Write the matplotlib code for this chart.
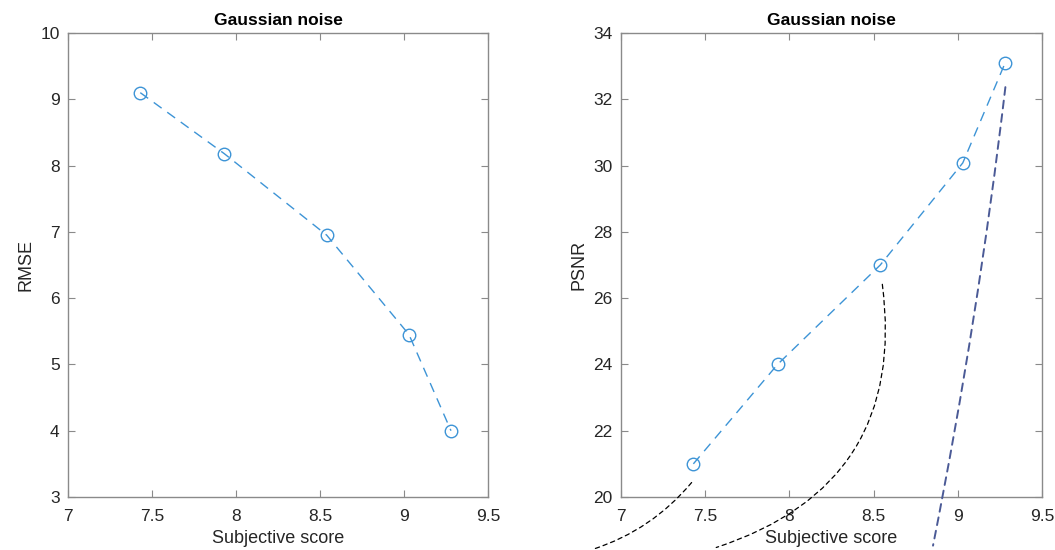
import matplotlib.pyplot as plt

plt.rcParams['font.family'] = ['Liberation Sans', 'DejaVu Sans']

# data
score = [7.43, 7.93, 8.54, 9.03, 9.28]
rmse = [9.1, 8.18, 6.95, 5.45, 4.0]
psnr = [21.0, 24.0, 27.0, 30.08, 33.08]

line_col = '#3d94d6'
axis_col = '#8a8a8a'
text_col = '#262626'

fig = plt.figure(figsize=(10.55, 5.5), dpi=100)
ax1 = fig.add_axes([0.0645, 0.0964, 0.398, 0.8436])
ax2 = fig.add_axes([0.5886, 0.0964, 0.399, 0.8436])


def style(ax):
    for s in ax.spines.values():
        s.set_color(axis_col)
        s.set_linewidth(1.0)
    ax.tick_params(direction='in', top=True, right=True, length=5,
                   color=axis_col, labelcolor=text_col, labelsize=12.5)
    ax.tick_params(axis='x', pad=9)
    ax.tick_params(axis='y', pad=6)
    ax.set_xlim(7, 9.5)
    ax.set_xticks([7, 7.5, 8, 8.5, 9, 9.5])
    ax.set_xticklabels(['7', '7.5', '8', '8.5', '9', '9.5'])
    ax.set_xlabel('Subjective score', fontsize=13, color=text_col, labelpad=4)
    ax.set_title('Gaussian noise', fontsize=12.5, fontweight='bold', pad=6)


ax1.plot(score, rmse, '--o', color=line_col, lw=1.0, ms=9, mfc='none',
         mew=1.0, dashes=(7, 5))
style(ax1)
ax1.set_ylim(3, 10)
ax1.set_yticks(range(3, 11))
ax1.set_ylabel('RMSE', fontsize=13, color=text_col)

ax2.plot(score, psnr, '--o', color=line_col, lw=1.0, ms=9, mfc='none',
         mew=1.0, dashes=(7, 5))
style(ax2)
ax2.set_ylim(20, 34)
ax2.set_yticks(range(20, 35, 2))
ax2.set_ylabel('PSNR', fontsize=13, color=text_col)

# leader lines running out of the axes
ax2.annotate('', xy=(6.82, 18.4), xytext=(7.43, 20.5), annotation_clip=False,
             arrowprops=dict(arrowstyle='-', linestyle=(0, (3.5, 3)), color='black',
                             lw=0.9, connectionstyle='arc3,rad=-0.15'))
ax2.annotate('', xy=(7.55, 18.45), xytext=(8.55, 26.5), annotation_clip=False,
             arrowprops=dict(arrowstyle='-', linestyle=(0, (3.5, 3)), color='black',
                             lw=0.9, connectionstyle='arc3,rad=-0.42'))
ax2.annotate('', xy=(8.85, 18.45), xytext=(9.285, 32.45), annotation_clip=False,
             arrowprops=dict(arrowstyle='-', linestyle=(0, (4, 3)), color='#4b5a96',
                             lw=1.4, connectionstyle='arc3,rad=-0.02'))

fig.savefig('out.png', dpi=100)
